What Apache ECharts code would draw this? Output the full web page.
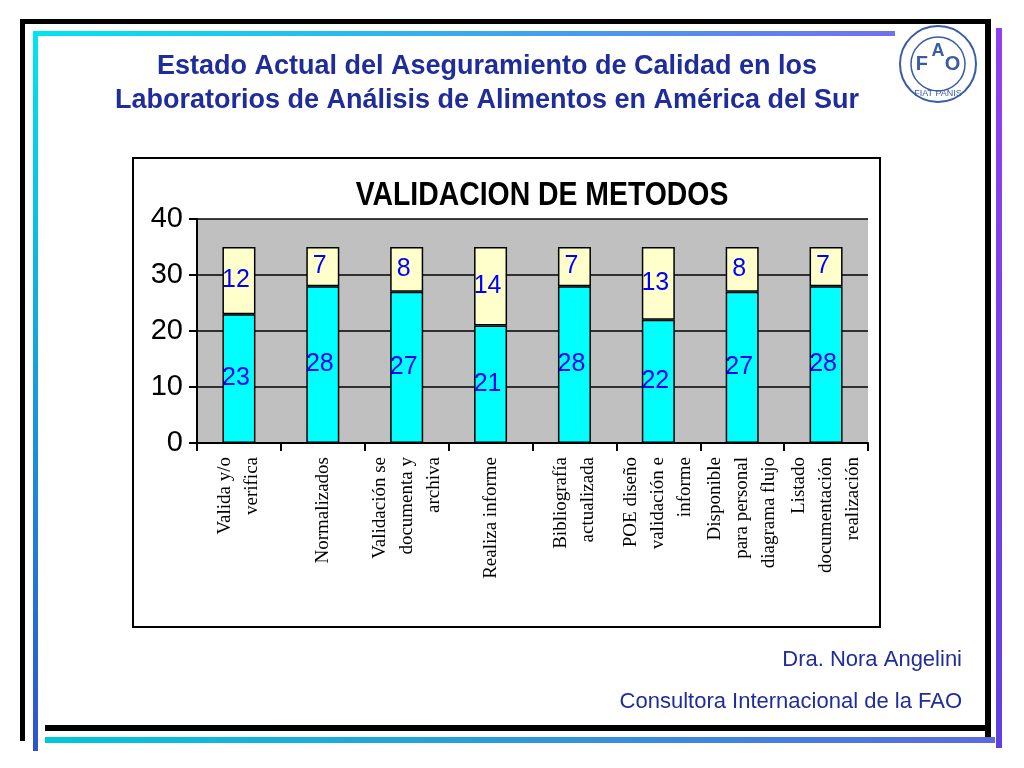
<!DOCTYPE html>
<html><head><meta charset="utf-8">
<script src="https://cdn.jsdelivr.net/npm/echarts@6/dist/echarts.min.js"></script>
<style>html,body{margin:0;padding:0;background:#fff}#c{width:1024px;height:768px}</style>
</head><body><div id="c"></div>
<script>
const categories = ["Valida y/o\nverifica","Normalizados","Validación se\ndocumenta y\narchiva","Realiza informe","Bibliografía\nactualizada","POE diseño\nvalidación e\ninforme","Disponible\npara personal\ndiagrama flujo","Listado\ndocumentación\nrealización"];
const bottomValues = [23,28,27,21,28,22,27,28];
const topValues = [12,7,8,14,7,13,8,7];
const yTicks = [0,10,20,30,40];

const chart = echarts.init(document.getElementById('c'));
const blue = '#1F2C9C';
function grad(x,y,w,h,horiz,c1,c2){
  return {type:'rect',shape:{x:x,y:y,width:w,height:h},style:{fill:new echarts.graphic.LinearGradient(0,0,horiz?1:0,horiz?0:1,[{offset:0,color:c1},{offset:1,color:c2}])},silent:true};
}
chart.setOption({
  animation:false,
  backgroundColor:'#fff',
  graphic:[
    {type:'rect',shape:{x:133,y:158,width:747,height:469},style:{fill:'#fff',stroke:'#000',lineWidth:2},z:-2,silent:true},
    {type:'rect',shape:{x:197,y:219,width:671,height:224},style:{fill:'#C0C0C0'},z:-1,silent:true},
    grad(20,19,970,5,true,'#000','#000'),
    grad(35,31,860,5,true,'#00E5EE','#7070F0'),
    grad(20,19,5,722,false,'#000','#000'),
    grad(33,31,5,720,false,'#00E5EE','#3050D0'),
    grad(985,19,6,720,false,'#000','#000'),
    grad(996,28,6,720,false,'#9040F0','#6040E0'),
    grad(45,725,945,6,true,'#000','#000'),
    grad(45,737,950,6,true,'#00C8D8','#5A6AE0'),
    {type:'text',x:487,y:50,style:{text:'Estado Actual del Aseguramiento de Calidad en los\nLaboratorios de Análisis de Alimentos en América del Sur',fill:blue,font:'bold 27px Arial, Liberation Sans',align:'center',lineHeight:34}},
    {type:'text',x:542,y:196,scaleX:0.86,style:{text:'VALIDACION DE METODOS',fill:'#000',font:'bold 33px Arial, Liberation Sans',align:'center',verticalAlign:'middle'}},
    {type:'circle',shape:{cx:938,cy:64,r:38},style:{fill:'#fff',stroke:'#3A5BA8',lineWidth:2}},
    {type:'circle',shape:{cx:938,cy:64,r:27},style:{fill:'none',stroke:'#3A5BA8',lineWidth:1.5}},
    {type:'text',x:938,y:64,style:{text:'F   O',fill:'#3A5BA8',font:'bold 20px Arial',align:'center',verticalAlign:'middle'}},
    {type:'text',x:938,y:51,style:{text:'A',fill:'#3A5BA8',font:'bold 18px Arial',align:'center',verticalAlign:'middle'}},
    {type:'text',x:938,y:94,style:{text:'FIAT PANIS',fill:'#3A5BA8',font:'9px Arial',align:'center',verticalAlign:'middle'}},
    {type:'text',x:962,y:660,style:{text:'Dra. Nora Angelini',fill:blue,font:'22px Arial, Liberation Sans',align:'right',verticalAlign:'middle'}},
    {type:'text',x:962,y:702,style:{text:'Consultora Internacional de la FAO',fill:blue,font:'22px Arial, Liberation Sans',align:'right',verticalAlign:'middle'}}
  ],
  grid:{left:197,top:219,width:671,height:224},
  xAxis:{type:'category',data:categories,
    axisLine:{lineStyle:{color:'#000',width:2}},axisTick:{show:true,length:8,lineStyle:{color:'#000',width:2}},
    axisLabel:{rotate:90,interval:0,margin:14,fontFamily:'Liberation Serif, Times New Roman',fontSize:19,color:'#000',lineHeight:27,align:'right'}},
  yAxis:{type:'value',min:0,max:40,interval:10,
    axisLine:{show:true,lineStyle:{color:'#000',width:2}},axisTick:{show:true,length:8,lineStyle:{color:'#000',width:2}},
    splitLine:{lineStyle:{color:'#000',width:1.5}},
    axisLabel:{fontFamily:'Liberation Sans, Arial',fontSize:29,color:'#000',margin:14,formatter:v=>yTicks.includes(v)?String(v):''}},
  series:[
    {type:'bar',stack:'s',data:bottomValues,barWidth:33,itemStyle:{color:'#00FFFF',borderColor:'#000',borderWidth:1.5},
     label:{show:true,position:'inside',color:'#0000FF',fontSize:25,fontFamily:'Liberation Sans, Arial',offset:[-3,0]}},
    {type:'bar',stack:'s',data:topValues,barWidth:33,itemStyle:{color:'#FFFFCC',borderColor:'#000',borderWidth:1.5},
     label:{show:true,position:'inside',color:'#0000FF',fontSize:25,fontFamily:'Liberation Sans, Arial',offset:[-3,0]}}
  ]
});
</script>
</body></html>
